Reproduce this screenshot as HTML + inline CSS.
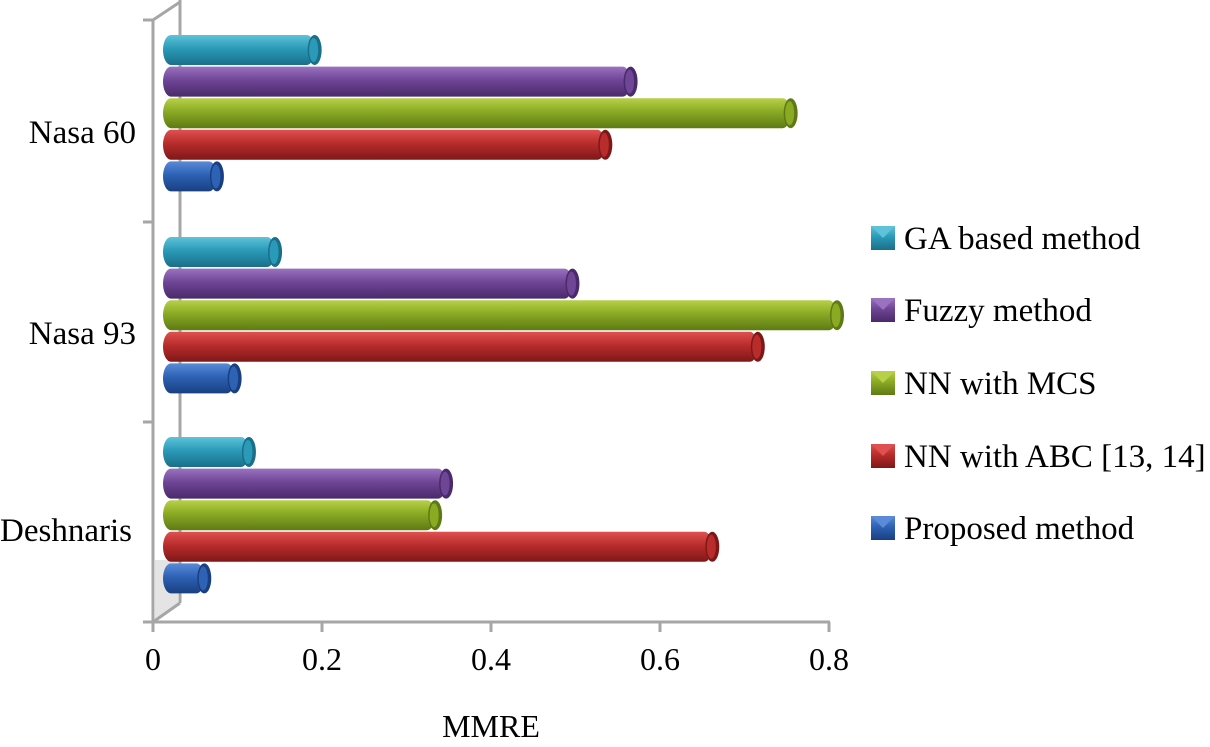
<!DOCTYPE html>
<html><head><meta charset="utf-8"><style>
html,body{margin:0;padding:0;background:#fff;}
svg{display:block;font-family:"Liberation Serif",serif;}
</style></head><body>
<svg id="chart" width="1210" height="747" viewBox="0 0 1210 747">
<defs></defs>
<g id="axes"></g>
<g id="bars"></g>
<g id="legend"></g>
<text x="491" y="737" font-size="32" text-anchor="middle">MMRE</text>
</svg>
<script>
const categories = ["Nasa 60", "Nasa 93", "Deshnaris"];
const seriesNames = ["GA based method", "Fuzzy method", "NN with MCS", "NN with ABC [13, 14]", "Proposed method"];
const gaValues = [0.18, 0.133, 0.102];
const fuzzyValues = [0.555, 0.486, 0.336];
const mcsValues = [0.745, 0.80, 0.323];
const abcValues = [0.525, 0.706, 0.652];
const proposedValues = [0.064, 0.085, 0.049];
const xTicks = [0, 0.2, 0.4, 0.6, 0.8];
const xTickLabels = ["0", "0.2", "0.4", "0.6", "0.8"];

const series = [gaValues, fuzzyValues, mcsValues, abcValues, proposedValues];
const colors = [["#5ec3d8","#2a9ab8","#1a6f88"],["#9a72c0","#6f4596","#4a2a6a"],["#b8d048","#8aaa24","#5e7a14"],["#e05050","#b82c2c","#7e1818"],["#5a8ad8","#2d62b4","#1a3f80"]];
const NS="http://www.w3.org/2000/svg";
const svg=document.getElementById('chart');
const defs=svg.querySelector('defs');
const axes=document.getElementById('axes');
const barsG=document.getElementById('bars');
const legendG=document.getElementById('legend');
function mk(t,a,p){const e=document.createElementNS(NS,t);for(const k in a)e.setAttribute(k,a[k]);(p||svg).appendChild(e);return e;}
const x0=153, xScale=(829-153)/0.8;
function xAxis(v){return x0+v*xScale;}
const barX0=163, barScale=(837-163)/0.8;
function barX(v){return barX0+v*barScale;}
const groupTop=[35,237,437], step=31.6, barH=30;
function barY(ci,si){return groupTop[ci]+si*step;}

colors.forEach((c,i)=>{
  const g=mk('linearGradient',{id:'g'+i,x1:0,y1:0,x2:0,y2:1},defs);
  mk('stop',{offset:'0',"stop-color":c[0]},g);
  mk('stop',{offset:'0.45',"stop-color":c[1]},g);
  mk('stop',{offset:'1',"stop-color":c[2]},g);
});

const gray="#a6a6a6";
mk('path',{d:"M180,0 L180,603",stroke:gray,"stroke-width":3,fill:"none"},axes);
mk('path',{d:"M143,20 L153,20 L180,2",stroke:gray,"stroke-width":3,fill:"none"},axes);
mk('polygon',{points:"155,560 178,560 178,603 155,620",fill:"#e4e4e4"},axes);
mk('path',{d:"M153,622 L180,603",stroke:gray,"stroke-width":3,fill:"none"},axes);
const yl=mk('line',{x1:153,y1:20,x2:153,y2:622,stroke:gray,"stroke-width":3},axes);

const xl=mk('line',{x1:143,y1:622,x2:830,y2:622,stroke:gray,"stroke-width":3},axes);

[222,422].forEach(y=>mk('line',{x1:143,y1:y,x2:153,y2:y,stroke:gray,"stroke-width":3},axes));
xTicks.forEach((v,i)=>{
  const x=xAxis(v);
  mk('line',{x1:x,y1:622,x2:x,y2:632,stroke:gray,"stroke-width":3},axes);
  const t=mk('text',{x:x,y:670,"font-size":32,"text-anchor":"middle"},axes);
  t.textContent=xTickLabels[i];
  
  
});
const catY=[132,333,530];
categories.forEach((c,i)=>{
  const t=mk('text',{x:i==2?0:136,y:catY[i]+11,"font-size":33,"text-anchor":i==2?"start":"end"},axes);
  t.textContent=c;
  
  
});

series.forEach((vals,si)=>{
  vals.forEach((v,ci)=>{
    const y=barY(ci,si), xe=barX(v);
    const g=mk('g',{},barsG);
    
    
    mk('rect',{x:barX0,y:y,width:Math.max(xe-barX0,6),height:barH,rx:8,ry:barH/2,fill:'url(#g'+si+')'},g);
    mk('ellipse',{cx:xe,cy:y+barH/2,rx:7,ry:barH/2,fill:colors[si][2]},g);
    mk('ellipse',{cx:xe-1,cy:y+barH/2,rx:4.5,ry:barH/2-3,fill:colors[si][1]},g);
  });
});

const legY=[238,310,383,456,528];
seriesNames.forEach((n,i)=>{
  const g=mk('g',{},legendG);
  
  
  mk('rect',{x:871,y:legY[i]-12,width:24,height:24,fill:'url(#g'+i+')'},g);
  mk('polygon',{points:`871,${legY[i]-12} 895,${legY[i]-12} 883,${legY[i]}`,fill:colors[i][0]},g);
  const t=mk('text',{x:904,y:legY[i]+11,"font-size":33},g);
  t.textContent=n;
});
</script>
</body></html>
